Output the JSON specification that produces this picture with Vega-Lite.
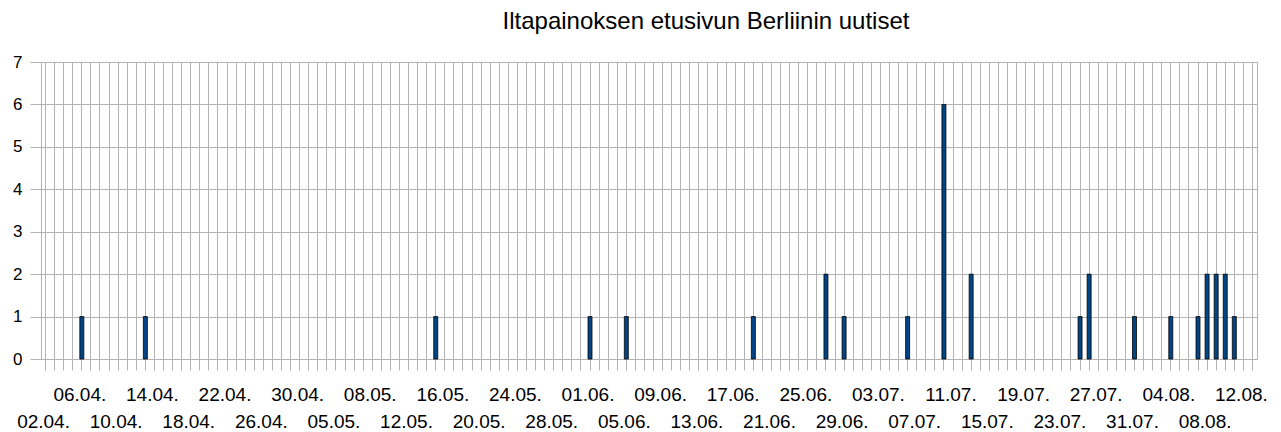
{
  "$schema": "https://vega.github.io/schema/vega-lite/v6.json",
  "autosize": {"type": "none"},
  "padding": {"left": 41, "top": 62, "right": 24, "bottom": 73},
  "width": 1216,
  "height": 297,
  "background": "#ffffff",
  "title": {
    "text": "Iltapainoksen etusivun Berliinin uutiset",
    "font": "Liberation Sans",
    "fontSize": 24,
    "fontWeight": "normal",
    "color": "#000000",
    "anchor": "middle",
    "frame": "group",
    "baseline": "alphabetic",
    "offset": 0,
    "dx": 57
  },
  "config": {
    "view": {"stroke": "#b3b3b3", "strokeWidth": 1},
    "axis": {"labelFont": "Liberation Sans", "labelColor": "#000000"}
  },
  "data": {
    "values": [
      {"d": "06.04.", "n": 1},
      {"d": "13.04.", "n": 1},
      {"d": "15.05.", "n": 1},
      {"d": "01.06.", "n": 1},
      {"d": "05.06.", "n": 1},
      {"d": "19.06.", "n": 1},
      {"d": "27.06.", "n": 2},
      {"d": "29.06.", "n": 1},
      {"d": "06.07.", "n": 1},
      {"d": "10.07.", "n": 6},
      {"d": "13.07.", "n": 2},
      {"d": "25.07.", "n": 1},
      {"d": "26.07.", "n": 2},
      {"d": "31.07.", "n": 1},
      {"d": "04.08.", "n": 1},
      {"d": "07.08.", "n": 1},
      {"d": "08.08.", "n": 2},
      {"d": "09.08.", "n": 2},
      {"d": "10.08.", "n": 2},
      {"d": "11.08.", "n": 1}
    ]
  },
  "mark": {"type": "bar", "fill": "#004586", "stroke": "#000000", "strokeWidth": 0.8},
  "encoding": {
    "x": {
      "field": "d",
      "type": "nominal",
      "sort": null,
      "scale": {
        "paddingInner": 0.56,
        "paddingOuter": 0.28,
        "domain": ["02.04.","03.04.","04.04.","05.04.","06.04.","07.04.","08.04.","09.04.","10.04.","11.04.","12.04.","13.04.","14.04.","15.04.","16.04.","17.04.","18.04.","19.04.","20.04.","21.04.","22.04.","23.04.","24.04.","25.04.","26.04.","27.04.","28.04.","29.04.","30.04.",
          "02.05.","03.05.","04.05.","05.05.","06.05.","07.05.","07.05.(2)",
          "08.05.","09.05.","10.05.","11.05.","12.05.","13.05.","14.05.","15.05.","16.05.","17.05.","18.05.","19.05.","20.05.","21.05.","22.05.","23.05.","24.05.","25.05.","26.05.","27.05.","28.05.","29.05.","30.05.","31.05.",
          "01.06.","02.06.","03.06.","04.06.","05.06.","06.06.","07.06.","08.06.","09.06.","10.06.","11.06.","12.06.","13.06.","14.06.","15.06.","16.06.","17.06.","18.06.","19.06.","20.06.","21.06.","22.06.","23.06.","24.06.","25.06.","26.06.","27.06.","28.06.","29.06.","30.06.",
          "01.07.","02.07.","03.07.","04.07.","05.07.","06.07.","07.07.","08.07.","09.07.","10.07.","11.07.","12.07.","13.07.","14.07.","15.07.","16.07.","17.07.","18.07.","19.07.","20.07.","21.07.","22.07.","23.07.","24.07.","25.07.","26.07.","27.07.","28.07.","29.07.","30.07.","31.07.",
          "01.08.","02.08.","03.08.","04.08.","05.08.","06.08.","07.08.","08.08.","09.08.","10.08.","11.08.","12.08.","13.08."]
      },
      "axis": {
        "title": null,
        "bandPosition": 0.5,
        "domain": false,
        "grid": true,
        "gridColor": "#b3b3b3",
        "gridWidth": 1,
        "ticks": true,
        "tickColor": "#b3b3b3",
        "tickSize": 11,
        "labelFontSize": 19,
        "labelAngle": 0,
        "labelOverlap": false,
        "labelBound": false,
        "labelFlush": false,
        "labelBaseline": "alphabetic",
        "labelOffset": -2,
        "labelExpr": "indexof(['02.04.','06.04.','10.04.','14.04.','18.04.','22.04.','26.04.','30.04.','05.05.','08.05.','12.05.','16.05.','20.05.','24.05.','28.05.','01.06.','05.06.','09.06.','13.06.','17.06.','21.06.','25.06.','29.06.','03.07.','07.07.','11.07.','15.07.','19.07.','23.07.','27.07.','31.07.','04.08.','08.08.','12.08.'], datum.value) >= 0 ? datum.value : ''",
        "labelPadding": {
          "condition": {
            "test": "indexof(['06.04.','14.04.','22.04.','30.04.','08.05.','16.05.','24.05.','01.06.','09.06.','17.06.','25.06.','03.07.','11.07.','19.07.','27.07.','04.08.','12.08.'], datum.value) >= 0",
            "value": 30
          },
          "value": 57
        }
      }
    },
    "y": {
      "field": "n",
      "type": "quantitative",
      "scale": {"domain": [0, 7], "nice": false},
      "axis": {
        "title": null,
        "values": [0, 1, 2, 3, 4, 5, 6, 7],
        "domain": false,
        "grid": true,
        "gridColor": "#b3b3b3",
        "gridWidth": 1,
        "ticks": true,
        "tickColor": "#b3b3b3",
        "tickSize": 11,
        "labelFontSize": 17,
        "labelPadding": 8,
        "labelBaseline": "middle"
      }
    }
  }
}
